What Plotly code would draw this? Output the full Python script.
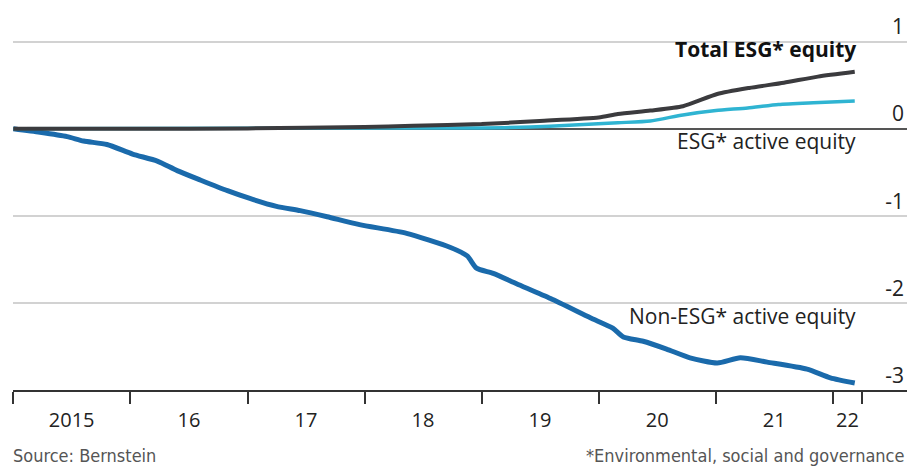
import plotly.graph_objects as go

# ---- data ----
non_esg_dates = ["2015-01-01", "2015-03-25", "2015-06-18", "2015-08-08", "2015-10-20",
                 "2016-01-08", "2016-03-25", "2016-05-26", "2016-08-08", "2016-10-30",
                 "2017-01-08", "2017-04-01", "2017-06-14", "2017-09-06", "2017-12-16",
                 "2018-05-12", "2018-09-24", "2018-11-17", "2018-12-16", "2019-02-06",
                 "2019-04-20", "2019-08-04", "2019-12-06", "2020-02-14", "2020-03-18",
                 "2020-05-19", "2020-07-31", "2020-10-12", "2021-01-05", "2021-03-18",
                 "2021-06-10", "2021-10-12", "2021-12-24", "2022-03-10"]
non_esg_values = [0, -0.04, -0.09, -0.14, -0.18,
                  -0.29, -0.37, -0.48, -0.59, -0.71,
                  -0.80, -0.89, -0.94, -1.01, -1.10,
                  -1.20, -1.36, -1.46, -1.60, -1.66,
                  -1.78, -1.95, -2.17, -2.29, -2.39,
                  -2.44, -2.53, -2.63, -2.69, -2.63,
                  -2.68, -2.76, -2.86, -2.92]

esg_active_dates = ["2015-01-01", "2018-01-01", "2019-01-01", "2019-06-01", "2019-10-01",
                    "2020-03-01", "2020-06-10", "2020-09-20", "2021-01-01", "2021-04-10",
                    "2021-07-15", "2021-11-01", "2022-03-10"]
esg_active_values = [0, 0.01, 0.01, 0.02, 0.04,
                     0.07, 0.09, 0.16, 0.21, 0.24,
                     0.28, 0.30, 0.32]

total_esg_dates = ["2015-01-01", "2016-01-01", "2017-01-01", "2018-01-01", "2018-06-01",
                   "2019-01-01", "2019-07-01", "2020-01-01", "2020-03-01", "2020-06-10",
                   "2020-09-20", "2021-01-05", "2021-04-15", "2021-08-01", "2021-11-15",
                   "2022-03-10"]
total_esg_values = [0, 0.0, 0.005, 0.02, 0.035,
                    0.055, 0.09, 0.13, 0.17, 0.21,
                    0.26, 0.40, 0.47, 0.53, 0.60,
                    0.655]

year_label_dates = ["2015-07-02", "2016-07-02", "2017-07-02", "2018-07-02", "2019-07-02",
                    "2020-07-02", "2021-07-02", "2022-02-15"]
year_labels = ["2015", "16", "17", "18", "19", "20", "21", "22"]
year_tick_dates = ["2015-01-01", "2016-01-01", "2017-01-01", "2018-01-01", "2019-01-01",
                   "2020-01-01", "2021-01-01", "2022-01-01", "2022-04-01"]
y_ticks = [1, 0, -1, -2, -3]
y_tick_labels = ["1", "0", "-1", "-2", "-3"]

BLUE = "#1a6aab"
TEAL = "#2fb4d2"
DARK = "#3b3b3e"
TXT = "'Open Sans', 'Noto Sans', sans-serif"
NARROW = "'Liberation Sans Narrow', 'DejaVu Sans Condensed', sans-serif"

fig = go.Figure()
fig.add_trace(go.Scatter(x=non_esg_dates, y=non_esg_values, mode="lines",
                         line=dict(color=BLUE, width=5, shape="spline", smoothing=0.6),
                         hoverinfo="skip"))
fig.add_trace(go.Scatter(x=esg_active_dates, y=esg_active_values, mode="lines",
                         line=dict(color=TEAL, width=3.5, shape="spline", smoothing=0.6),
                         hoverinfo="skip"))
fig.add_trace(go.Scatter(x=total_esg_dates, y=total_esg_values, mode="lines",
                         line=dict(color=DARK, width=4, shape="spline", smoothing=0.6),
                         hoverinfo="skip"))

W, H = 911, 467
L, R, T, B = 13, 4, 0, 77
pw, ph = W - L - R, H - T - B


def px_x(p):
    return (p - L) / pw


def px_y(p):
    return (ph - (p - T)) / ph


# white gaps in gridlines behind the series labels
for x0, x1, y0, y1 in [(663, 864, 34, 62), (663, 864, 124, 156), (613, 864, 296, 326)]:
    fig.add_shape(type="rect", xref="paper", yref="paper",
                  x0=px_x(x0), x1=px_x(x1), y0=px_y(y1), y1=px_y(y0),
                  fillcolor="white", line=dict(width=0), layer="between")

fig.add_annotation(text="<b>Total ESG* equity</b>", xref="paper", yref="paper",
                   x=px_x(858), y=px_y(49), xanchor="right", yanchor="middle",
                   showarrow=False, font=dict(family=TXT, size=21, color="#111"))
fig.add_annotation(text="ESG* active equity", xref="paper", yref="paper",
                   x=px_x(858), y=px_y(141), xanchor="right", yanchor="middle",
                   showarrow=False, font=dict(family=TXT, size=21, color="#222"))
fig.add_annotation(text="Non-ESG* active equity", xref="paper", yref="paper",
                   x=px_x(858), y=px_y(316), xanchor="right", yanchor="middle",
                   showarrow=False, font=dict(family=TXT, size=21, color="#222"))

fig.add_annotation(text="Source: Bernstein", xref="paper", yref="paper",
                   x=px_x(11), y=px_y(455), xanchor="left", yanchor="middle",
                   showarrow=False, font=dict(family=NARROW, size=18, color="#555"))
fig.add_annotation(text="*Environmental, social and governance", xref="paper", yref="paper",
                   x=px_x(907), y=px_y(455), xanchor="right", yanchor="middle",
                   showarrow=False, font=dict(family=NARROW, size=18, color="#555"))

x_range = ["2014-12-31", "2022-08-20"]

fig.update_layout(
    width=W, height=H,
    margin=dict(l=L, r=R, t=T, b=B),
    paper_bgcolor="white", plot_bgcolor="white",
    showlegend=False,
    xaxis=dict(
        type="date", range=x_range,
        tickmode="array", tickvals=year_label_dates, ticktext=year_labels,
        ticks="outside", ticklen=11, tickcolor="rgba(0,0,0,0)",
        tickfont=dict(family=TXT, size=20, color="#222"),
        showline=True, linecolor="#333", linewidth=1.5,
        showgrid=False, zeroline=False,
        minor=dict(tickmode="array", tickvals=year_tick_dates, ticks="outside",
                   ticklen=12, tickcolor="#333", tickwidth=1.5, showgrid=False),
    ),
    yaxis=dict(
        range=[-3.0, 1.48], side="right",
        tickmode="array", tickvals=y_ticks, ticktext=y_tick_labels,
        ticks="", ticklabelposition="inside top",
        tickfont=dict(family=TXT, size=21, color="#222"),
        showgrid=True, gridcolor="#d2d2d2", gridwidth=1.5,
        zeroline=True, zerolinecolor="#555", zerolinewidth=1.5,
        showline=False,
    ),
)

fig.write_html("out.html")
